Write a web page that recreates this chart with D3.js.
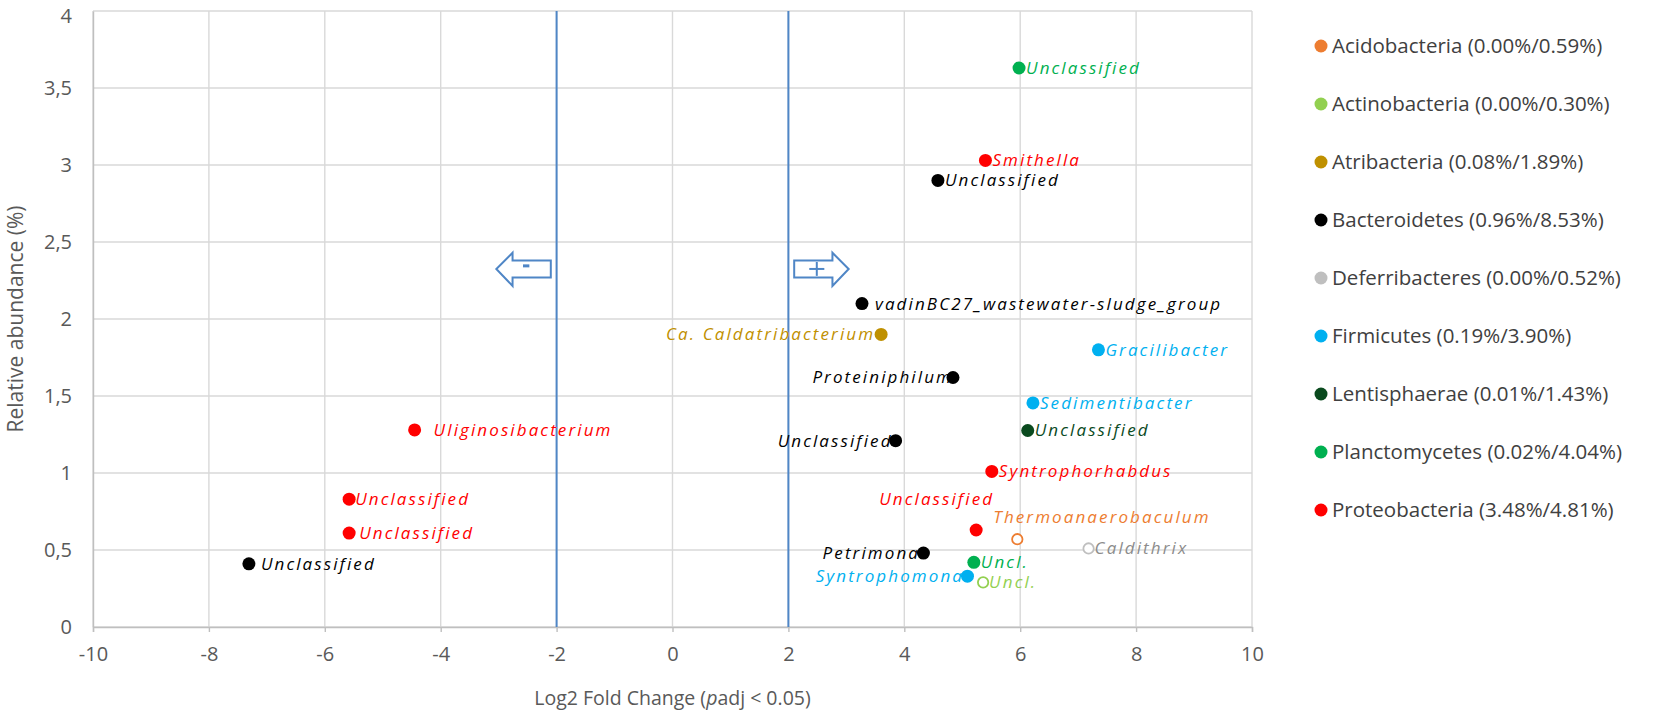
<!DOCTYPE html>
<html>
<head>
<meta charset="utf-8">
<script src="https://cdn.jsdelivr.net/npm/d3@7"></script>
<style>
  body { margin: 0; background: #fff; }
  text { font-family: "Open Sans", "Noto Sans", sans-serif; }
</style>
</head>
<body>
<div id="container"></div>
<script>
// Phyla shown in the legend
const phyla = ['Acidobacteria', 'Actinobacteria', 'Atribacteria', 'Bacteroidetes', 'Deferribacteres',
  'Firmicutes', 'Lentisphaerae', 'Planctomycetes', 'Proteobacteria'];
const phylaShares = ['(0.00%/0.59%)', '(0.00%/0.30%)', '(0.08%/1.89%)', '(0.96%/8.53%)', '(0.00%/0.52%)',
  '(0.19%/3.90%)', '(0.01%/1.43%)', '(0.02%/4.04%)', '(3.48%/4.81%)'];
const phylaColors = ['#ed7d31', '#92d050', '#bf9000', '#000000', '#bfbfbf',
  '#00b0f0', '#0a4a1e', '#00b050', '#ff0000'];

// Genera (points)
const genus = ['Unclassified', 'Smithella', 'Unclassified', 'vadinBC27_wastewater-sludge_group',
  'Ca. Caldatribacterium', 'Gracilibacter', 'Proteiniphilum', 'Sedimentibacter', 'Unclassified',
  'Uliginosibacterium', 'Unclassified', 'Syntrophorhabdus', 'Unclassified', 'Thermoanaerobaculum',
  'Caldithrix', 'Petrimonas', 'Uncl.', 'Syntrophomonas', 'Uncl.', 'Unclassified', 'Unclassified',
  'Unclassified'];
const genusPhylum = ['Planctomycetes', 'Proteobacteria', 'Bacteroidetes', 'Bacteroidetes',
  'Atribacteria', 'Firmicutes', 'Bacteroidetes', 'Firmicutes', 'Lentisphaerae',
  'Proteobacteria', 'Bacteroidetes', 'Proteobacteria', 'Proteobacteria', 'Acidobacteria',
  'Deferribacteres', 'Bacteroidetes', 'Planctomycetes', 'Firmicutes', 'Actinobacteria',
  'Proteobacteria', 'Proteobacteria', 'Bacteroidetes'];
const log2FC = [5.98, 5.40, 4.58, 3.27, 3.60, 7.35, 4.84, 6.22, 6.13, -4.45, 3.85, 5.51, 5.24, 5.95,
  7.18, 4.33, 5.20, 5.09, 5.36, -5.58, -5.58, -7.31];
const abundance = [3.63, 3.03, 2.90, 2.10, 1.90, 1.80, 1.62, 1.455, 1.276, 1.28, 1.21, 1.01, 0.63, 0.57,
  0.51, 0.48, 0.42, 0.33, 0.29, 0.83, 0.61, 0.41];
const openMarker = [false, false, false, false, false, false, false, false, false, false, false, false,
  false, true, true, false, false, false, true, false, false, false];

// Axis ticks
const xTicks = [-10, -8, -6, -4, -2, 0, 2, 4, 6, 8, 10];
const yTicks = [0, 0.5, 1, 1.5, 2, 2.5, 3, 3.5, 4];
const cutoffs = [-2, 2];

// label placement: anchor side + pixel offsets (layout only)
const labelPlace = [
  ['start', 7, 0], ['start', 7, 0], ['start', 7, 0], ['start', 13, 0], ['end', -6, 0],
  ['start', 7, 0], ['end', 0, 0], ['start', 7, 0], ['start', 7, 0], ['start', 19, 0],
  ['end', -3, 0], ['start', 7, 0], ['end', 18, -31], ['start', -24, -22], ['start', 6, 0],
  ['end', 6, 0], ['start', 7, 0], ['end', 6, 0], ['start', 6, 0], ['start', 6, 0],
  ['start', 10, 0], ['start', 12, 0]
];

const width = 1655, height = 717;
const plot = { left: 93, right: 1252, top: 11, bottom: 627 };

const svg = d3.select('#container').append('svg')
  .attr('width', width)
  .attr('height', height);

const x = d3.scaleLinear().domain([-10, 10]).range([plot.left, plot.right]);
const y = d3.scaleLinear().domain([0, 4]).range([plot.bottom, plot.top]);
const color = d3.scaleOrdinal().domain(phyla).range(phylaColors);

// Grid
svg.append('g').selectAll('line').data(xTicks).join('line')
  .attr('x1', d => x(d)).attr('x2', d => x(d))
  .attr('y1', y(4)).attr('y2', y(0))
  .attr('stroke', '#d9d9d9').attr('stroke-width', 1.4);
svg.append('g').selectAll('line').data(yTicks).join('line')
  .attr('x1', x(-10)).attr('x2', x(10))
  .attr('y1', d => y(d)).attr('y2', d => y(d))
  .attr('stroke', '#d9d9d9').attr('stroke-width', 1.4);

const fmt = d => String(d).replace('.', ',');

// X axis
const xAxis = svg.append('g')
  .attr('transform', `translate(0,${plot.bottom})`)
  .call(d3.axisBottom(x).tickValues(xTicks).tickSize(5).tickPadding(15).tickFormat(fmt));
xAxis.select('.domain').attr('stroke', '#bfbfbf').attr('stroke-width', 1.4);
xAxis.selectAll('.tick line').attr('stroke', '#bfbfbf').attr('stroke-width', 1.4);
xAxis.selectAll('.tick text').attr('fill', '#595959').style('font-size', '20px');

// Y axis
const yAxis = svg.append('g')
  .attr('transform', `translate(${plot.left},0)`)
  .call(d3.axisLeft(y).tickValues(yTicks).tickSize(0).tickPadding(21).tickFormat(fmt));
yAxis.select('.domain').attr('stroke', '#bfbfbf').attr('stroke-width', 1.4);
yAxis.selectAll('.tick text').attr('fill', '#595959').style('font-size', '20px')
  .filter(d => d === 4).attr('dy', '0.56em');

// Cutoff lines
svg.append('g').selectAll('line').data(cutoffs).join('line')
  .attr('x1', d => x(d)).attr('x2', d => x(d))
  .attr('y1', y(4)).attr('y2', y(0))
  .attr('stroke', '#4f86c6').attr('stroke-width', 2);

// Direction arrows (drawn in data units next to the cutoffs)
function arrowPath(dir) {
  const bx = dir < 0 ? -2.10 : 2.10;
  const hx = dir < 0 ? -2.76 : 2.76;
  const tx = dir < 0 ? -3.04 : 3.04;
  return d3.line()([
    [x(bx), y(2.38)], [x(hx), y(2.38)], [x(hx), y(2.43)], [x(tx), y(2.325)],
    [x(hx), y(2.215)], [x(hx), y(2.27)], [x(bx), y(2.27)]
  ]) + 'Z';
}
const arrows = svg.append('g').attr('fill', 'none').attr('stroke', '#4f86c6').attr('stroke-width', 2);
arrows.append('path').attr('d', arrowPath(-1)).attr('fill', '#fff');
arrows.append('path').attr('d', arrowPath(1)).attr('fill', '#fff');
arrows.append('line')
  .attr('x1', x(-2.58)).attr('x2', x(-2.47)).attr('y1', y(2.345)).attr('y2', y(2.345))
  .attr('stroke-width', 3);
arrows.append('line')
  .attr('x1', x(2.36)).attr('x2', x(2.62)).attr('y1', y(2.325)).attr('y2', y(2.325));
arrows.append('line')
  .attr('x1', x(2.49)).attr('x2', x(2.49)).attr('y1', y(2.37)).attr('y2', y(2.28));

// Points
const points = genus.map((g, i) => ({
  genus: g, phylum: genusPhylum[i], fc: log2FC[i], ab: abundance[i], open: openMarker[i], place: labelPlace[i]
}));

svg.append('g').selectAll('circle').data(points).join('circle')
  .attr('cx', d => x(d.fc))
  .attr('cy', d => y(d.ab))
  .attr('r', d => d.open ? 5.2 : 6.5)
  .attr('fill', d => d.open ? '#fff' : color(d.phylum))
  .attr('stroke', d => color(d.phylum))
  .attr('stroke-width', d => d.open ? 1.8 : 0);

svg.append('g').selectAll('text').data(points).join('text')
  .attr('x', d => x(d.fc) + d.place[1])
  .attr('y', d => y(d.ab) + d.place[2])
  .attr('dy', '0.35em')
  .attr('text-anchor', d => d.place[0])
  .attr('fill', d => d.phylum === 'Deferribacteres' ? '#8c8c8c' : color(d.phylum))
  .style('font-style', 'italic')
  .style('font-size', '17px')
  .style('letter-spacing', '2.1px')
  .text(d => d.genus);

// Axis titles
svg.append('text')
  .attr('x', x(0)).attr('y', 705)
  .attr('text-anchor', 'middle')
  .attr('fill', '#595959')
  .style('font-size', '19.5px')
  .call(t => {
    t.append('tspan').text('Log2  Fold Change (');
    t.append('tspan').style('font-style', 'italic').text('p');
    t.append('tspan').text('adj < 0.05)');
  });

svg.append('text')
  .attr('transform', `translate(23,${(plot.top + plot.bottom) / 2}) rotate(-90)`)
  .attr('text-anchor', 'middle')
  .attr('fill', '#595959')
  .style('font-size', '21px')
  .text('Relative abundance (%)');

// Legend
const legend = svg.append('g').selectAll('g').data(phyla).join('g')
  .attr('transform', (d, i) => `translate(1321,${46 + i * 58})`);
legend.append('circle').attr('r', 6.5).attr('fill', d => color(d));
legend.append('text')
  .attr('x', 11).attr('dy', '0.35em')
  .attr('fill', '#404040')
  .style('font-size', '20.5px')
  .text((d, i) => `${d} ${phylaShares[i]}`);
</script>
</body>
</html>
